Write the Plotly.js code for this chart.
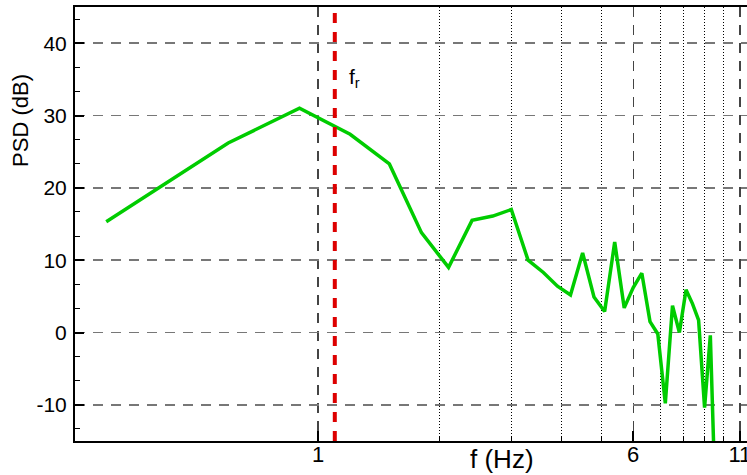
<!DOCTYPE html>
<html>
<head>
<meta charset="utf-8">
<script src="https://cdn.plot.ly/plotly-3.0.1.min.js"></script>
<style>html,body{margin:0;padding:0;background:#fff;overflow:hidden;}</style>
</head>
<body>
<div id="chart" style="width:747px;height:475px;"></div>
<script>
// Frequencies (Hz) and PSD (dB)
var freqs = [0.3, 0.6, 0.9, 1.2, 1.5, 1.8, 2.1, 2.4, 2.7, 3.0, 3.3, 3.6, 3.9, 4.2, 4.5, 4.8,
             5.1, 5.4, 5.7, 6.0, 6.3, 6.6, 6.9, 7.2, 7.5, 7.8, 8.1, 8.4, 8.7, 9.0, 9.3, 9.6];
var psd = [15.3, 26.2, 31.0, 27.4, 23.3, 13.8, 9.0, 15.5, 16.1, 17.0, 10.0, 8.3, 6.4, 5.2, 11.0, 4.9,
           2.9, 12.5, 3.4, 6.2, 8.2, 1.5, -0.2, -9.8, 3.7, 0.0, 5.9, 4.0, 1.7, -10.4, -0.4, -26];
var fr = 1.1;                       // resonance frequency marker
var yRange = [-15, 45];
var xMajorTicks = [1, 6, 11];
var xMajorText = ['1', '6', '11'];
var xMinorTicks = [2, 3, 4, 5, 7, 8, 9, 10];
var yMajorTicks = [-10, 0, 10, 20, 30, 40];
var yMajorText = ['-10', '0', '10', '20', '30', '40'];

var FONT = '"Liberation Sans", Arial, sans-serif';

var traces = [
  {
    x: freqs, y: psd, type: 'scatter', mode: 'lines',
    line: {color: '#00cc00', width: 3.5},
    hoverinfo: 'skip'
  },
  {
    x: [fr, fr], y: yRange, type: 'scatter', mode: 'lines',
    line: {color: '#dd0000', width: 4, dash: '10px,9px'},
    hoverinfo: 'skip'
  }
];

var layout = {
  width: 747, height: 475,
  margin: {l: 75, r: 0, t: 7, b: 34},
  paper_bgcolor: '#fff', plot_bgcolor: '#fff',
  showlegend: false,
  font: {family: FONT, color: '#000', size: 20},
  xaxis: {
    type: 'log', range: [-0.6, 1.059],
    tickmode: 'array', tickvals: xMajorTicks, ticktext: xMajorText,
    ticks: 'inside', ticklen: 10, tickwidth: 2, tickcolor: '#000',
    ticklabeloverflow: 'allow', ticklabelstandoff: -7,
    showline: true, linewidth: 2, linecolor: '#000', mirror: true,
    showgrid: true, gridcolor: '#444', gridwidth: 1.3, griddash: '10px,8px',
    zeroline: false,
    tickfont: {family: FONT, size: 22, color: '#000'},
    minor: {
      tickmode: 'array', tickvals: xMinorTicks,
      ticks: 'inside', ticklen: 4, tickwidth: 1, tickcolor: '#000',
      showgrid: true, gridcolor: '#000', gridwidth: 1, griddash: '1px,2px'
    }
  },
  yaxis: {
    range: yRange,
    tickmode: 'array', tickvals: yMajorTicks, ticktext: yMajorText,
    ticks: 'inside', ticklen: 9, tickwidth: 2, tickcolor: '#000',
    ticklabelstandoff: 2,
    showline: true, linewidth: 2, linecolor: '#000', mirror: false,
    showgrid: true, gridcolor: '#777', gridwidth: 1.5, griddash: '10px,8px',
    zeroline: false,
    tickfont: {family: FONT, size: 21, color: '#000'},
    minor: {
      tick0: 0, dtick: 10 / 3,
      ticks: 'inside', ticklen: 5, tickwidth: 1, tickcolor: '#000',
      showgrid: false
    }
  },
  annotations: [
    {
      text: 'PSD (dB)', textangle: -90,
      xref: 'paper', yref: 'paper', x: -0.082, y: 0.7396,
      xanchor: 'center', yanchor: 'middle', showarrow: false,
      font: {family: FONT, size: 22, color: '#000'}
    },
    {
      text: 'f (Hz)',
      xref: 'paper', yref: 'paper', x: 0.6354, y: -0.042,
      xanchor: 'center', yanchor: 'middle', showarrow: false,
      font: {family: FONT, size: 26, color: '#000'}
    },
    {
      text: 'f<sub>r</sub>',
      xref: 'x', yref: 'y', x: Math.log10(fr), y: 35.2,
      xanchor: 'left', yanchor: 'middle', xshift: 12, showarrow: false,
      font: {family: FONT, size: 21, color: '#000'}
    }
  ]
};

Plotly.newPlot('chart', traces, layout, {staticPlot: true, displayModeBar: false});
</script>
</body>
</html>
